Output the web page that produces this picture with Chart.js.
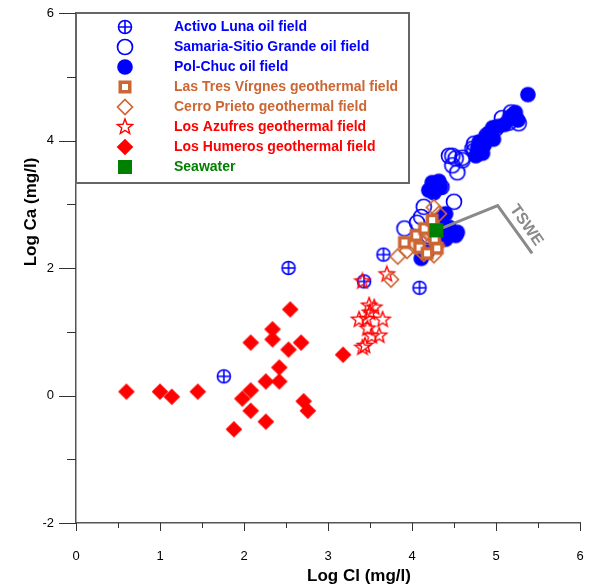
<!DOCTYPE html>
<html>
<head>
<meta charset="utf-8">
<script src="https://cdn.jsdelivr.net/npm/chart.js@4.4.1/dist/chart.umd.min.js"></script>
<style>
  html, body { margin: 0; padding: 0; background: #fff; }
  #wrap { width: 589px; height: 584px; }
</style>
</head>
<body>
<div id="wrap"><canvas id="clCaChart" width="589" height="584"></canvas></div>
<script>
// Log Cl vs Log Ca (mg/l): oil field brines, geothermal waters and seawater

const activoLunaCl = [2.53, 1.76, 3.43, 4.09, 3.66];
const activoLunaCa = [2.00, 0.30, 1.79, 1.69, 2.21];

const samariaCl = [5.27, 5.15, 5.07, 5.18, 5.00, 4.89, 4.74, 4.72, 4.74, 4.60, 4.60, 4.52, 4.48, 4.44, 4.48, 4.54, 4.35, 4.50, 4.14, 4.11, 4.06, 3.91, 4.20];
const samariaCa = [4.27, 4.28, 4.35, 4.44, 4.19, 4.08, 3.95, 3.87, 3.84, 3.73, 3.69, 3.72, 3.76, 3.76, 3.61, 3.50, 3.27, 3.04, 2.96, 2.80, 2.71, 2.62, 2.50];

const polChucCl = [5.38, 5.23, 5.20, 5.16, 5.26, 5.10, 5.02, 4.96, 4.92, 4.88, 4.97, 4.80, 4.86, 4.78, 4.84, 4.76, 4.24, 4.29, 4.32, 4.20, 4.26, 4.34, 4.40, 4.33, 4.44, 4.54, 4.52, 4.11, 4.18, 4.29, 4.40];
const polChucCa = [4.72, 4.44, 4.40, 4.36, 4.32, 4.25, 4.22, 4.20, 4.12, 4.05, 4.02, 3.98, 3.93, 3.88, 3.80, 3.76, 3.34, 3.30, 3.36, 3.22, 3.18, 3.27, 2.85, 2.76, 2.64, 2.56, 2.51, 2.15, 2.25, 2.43, 2.45];

const tresVirgenesCl = [3.91, 4.05, 4.15, 4.24, 4.09, 4.18, 4.30, 4.27];
const tresVirgenesCa = [2.40, 2.51, 2.62, 2.75, 2.32, 2.23, 2.31, 2.46];

const cerroPrietoCl = [3.75, 3.83, 3.94, 4.02, 4.10, 4.18, 4.26, 4.26, 4.32, 4.14, 4.26, 4.30, 4.21];
const cerroPrietoCa = [1.82, 2.18, 2.27, 2.36, 2.45, 2.55, 2.67, 2.95, 2.85, 2.22, 2.20, 2.35, 2.60];

const azufresCl = [3.41, 3.70, 3.49, 3.55, 3.37, 3.46, 3.65, 3.47, 3.52, 3.61, 3.41, 3.44, 3.50];
const azufresCa = [1.79, 1.90, 1.41, 1.38, 1.19, 1.20, 1.19, 1.05, 0.93, 0.94, 0.75, 0.78, 1.30];

const humerosCl = [0.60, 1.00, 1.14, 1.45, 1.88, 1.98, 2.08, 2.08, 2.08, 2.26, 2.26, 2.42, 2.42, 2.34, 2.34, 2.53, 2.68, 2.55, 2.71, 2.76, 3.18];
const humerosCa = [0.06, 0.06, -0.02, 0.06, -0.53, -0.05, 0.08, -0.24, 0.83, -0.41, 0.22, 0.44, 0.22, 1.04, 0.88, 0.72, 0.83, 1.35, -0.09, -0.24, 0.64];

const seawaterCl = [4.29];
const seawaterCa = [2.59];

// theoretical seawater evaporation trend
const tsweCl = [4.29, 5.02, 5.43];
const tsweCa = [2.59, 2.98, 2.23];

const BLUE = '#0000ff';
const ORANGE = '#cc6633';
const RED = '#ff0000';
const GREEN = '#008000';

function zip(xs, ys) {
  return xs.map((x, i) => ({ x: x, y: ys[i] }));
}

// marker sprites, used both on the plot and in the legend box
function marker(kind, color) {
  const c = document.createElement('canvas');
  c.width = 20; c.height = 20;
  const g = c.getContext('2d');
  g.translate(10, 10);
  g.strokeStyle = color;
  g.fillStyle = color;
  if (kind === 'circlePlus') {
    g.lineWidth = 1.6;
    g.beginPath(); g.arc(0, 0, 6.5, 0, Math.PI * 2); g.stroke();
    g.beginPath(); g.moveTo(-6.5, 0); g.lineTo(6.5, 0); g.moveTo(0, -6.5); g.lineTo(0, 6.5); g.stroke();
  } else if (kind === 'ring') {
    g.lineWidth = 1.7;
    g.beginPath(); g.arc(0, 0, 7.5, 0, Math.PI * 2); g.stroke();
  } else if (kind === 'dot') {
    g.beginPath(); g.arc(0, 0, 7.8, 0, Math.PI * 2); g.fill();
  } else if (kind === 'thickSquare') {
    g.fillRect(-6.5, -6.5, 13, 13);
    g.fillStyle = '#fff';
    g.fillRect(-3, -3, 6, 6);
  } else if (kind === 'openDiamond') {
    g.lineWidth = 1.7;
    g.beginPath(); g.moveTo(0, -7.5); g.lineTo(7.5, 0); g.lineTo(0, 7.5); g.lineTo(-7.5, 0); g.closePath(); g.stroke();
  } else if (kind === 'openStar') {
    g.lineWidth = 1.4;
    g.beginPath();
    for (let i = 0; i < 10; i++) {
      const r = i % 2 === 0 ? 8 : 3.4;
      const a = -Math.PI / 2 + i * Math.PI / 5;
      const px = r * Math.cos(a), py = r * Math.sin(a);
      if (i === 0) g.moveTo(px, py); else g.lineTo(px, py);
    }
    g.closePath(); g.stroke();
  } else if (kind === 'fullDiamond') {
    g.beginPath(); g.moveTo(0, -8.3); g.lineTo(8.3, 0); g.lineTo(0, 8.3); g.lineTo(-8.3, 0); g.closePath(); g.fill();
  } else if (kind === 'fullSquare') {
    g.fillRect(-7, -7, 14, 14);
  }
  return c;
}

const series = [
  { label: 'Activo Luna oil field', color: BLUE, style: marker('circlePlus', BLUE), data: zip(activoLunaCl, activoLunaCa), order: 5 },
  { label: 'Samaria-Sitio Grande oil field', color: BLUE, style: marker('ring', BLUE), data: zip(samariaCl, samariaCa), order: 6 },
  { label: 'Pol-Chuc oil field', color: BLUE, style: marker('dot', BLUE), data: zip(polChucCl, polChucCa), order: 7 },
  { label: 'Las Tres Vírgnes geothermal field', color: ORANGE, style: marker('thickSquare', ORANGE), data: zip(tresVirgenesCl, tresVirgenesCa), order: 2 },
  { label: 'Cerro Prieto geothermal field', color: ORANGE, style: marker('openDiamond', ORANGE), data: zip(cerroPrietoCl, cerroPrietoCa), order: 3 },
  { label: 'Los Azufres geothermal field', color: RED, style: marker('openStar', RED), data: zip(azufresCl, azufresCa), order: 4 },
  { label: 'Los Humeros geothermal field', color: RED, style: marker('fullDiamond', RED), data: zip(humerosCl, humerosCa), order: 4 },
  { label: 'Seawater', color: GREEN, style: marker('fullSquare', GREEN), data: zip(seawaterCl, seawaterCa), order: 0 }
];

const datasets = series.map(s => ({
  label: s.label,
  data: s.data,
  pointStyle: s.style,
  pointRadius: 8,
  borderColor: s.color,
  backgroundColor: s.color,
  order: s.order
}));

datasets.push({
  label: 'TSWE',
  data: zip(tsweCl, tsweCa),
  showLine: true,
  pointRadius: 0,
  borderColor: '#8a8a8a',
  borderWidth: 3,
  order: 1
});

const FONT = "'Liberation Sans', Arial, sans-serif";

// outward tick marks: long at labelled values, short in between
const tickMarks = {
  id: 'tickMarks',
  afterDraw(chart) {
    const { ctx, chartArea: a, scales: { x, y } } = chart;
    ctx.save();
    ctx.strokeStyle = '#333';
    ctx.lineWidth = 1;
    ctx.beginPath();
    for (let v = 0; v <= 6.001; v += 0.5) {
      const px = Math.round(x.getPixelForValue(v)) + 0.5;
      const len = Number.isInteger(v) ? 8 : 5;
      ctx.moveTo(px, a.bottom); ctx.lineTo(px, a.bottom + len);
    }
    for (let v = -2; v <= 6; v += 1) {
      const py = Math.round(y.getPixelForValue(v)) + 0.5;
      const len = v % 2 === 0 ? 17 : 9;
      ctx.moveTo(a.left, py); ctx.lineTo(a.left - len, py);
    }
    ctx.stroke();

    // axis titles
    ctx.fillStyle = '#000';
    ctx.font = 'bold 17px ' + FONT;
    ctx.textAlign = 'center';
    ctx.textBaseline = 'middle';
    ctx.fillText('Log Cl (mg/l)', 359, 576);
    ctx.translate(31, 212);
    ctx.rotate(-Math.PI / 2);
    ctx.fillText('Log Ca (mg/l)', 0, 0);
    ctx.restore();

    // label along the evaporation trend
    ctx.save();
    ctx.translate(x.getPixelForValue(5.36), y.getPixelForValue(2.67));
    ctx.rotate(55 * Math.PI / 180);
    ctx.fillStyle = '#8a8a8a';
    ctx.font = 'bold 16px ' + FONT;
    ctx.textAlign = 'center';
    ctx.textBaseline = 'middle';
    ctx.fillText('TSWE', 0, 0);
    ctx.restore();
  }
};

// boxed legend in the upper-left corner of the plot
const legendBox = {
  id: 'legendBox',
  afterDatasetsDraw(chart) {
    const { ctx, chartArea: a } = chart;
    const left = a.left, top = a.top, w = 333, h = 170;
    ctx.save();
    ctx.fillStyle = '#fff';
    ctx.fillRect(left, top, w, h);
    ctx.strokeStyle = '#666';
    ctx.lineWidth = 2;
    ctx.strokeRect(left, top, w, h);
    ctx.font = 'bold 14px ' + FONT;
    ctx.textAlign = 'left';
    ctx.textBaseline = 'middle';
    series.forEach((s, i) => {
      const cy = top + 14 + i * 20;
      ctx.drawImage(s.style, left + 49 - 10, cy - 10);
      ctx.fillStyle = s.color;
      ctx.fillText(s.label, left + 98, cy);
    });
    ctx.restore();
  }
};

new Chart(document.getElementById('clCaChart'), {
  type: 'scatter',
  data: { datasets: datasets },
  plugins: [legendBox, tickMarks],
  options: {
    responsive: false,
    devicePixelRatio: 1,
    animation: false,
    events: [],
    layout: { padding: { top: 13, right: 8, left: 0, bottom: 0 } },
    plugins: {
      legend: { display: false },
      tooltip: { enabled: false }
    },
    scales: {
      x: {
        type: 'linear',
        min: 0,
        max: 6,
        grid: { display: false, drawTicks: false },
        border: { display: true, color: '#555', width: 1.5 },
        ticks: { stepSize: 1, padding: 26, color: '#000', font: { family: FONT, size: 13 } },
        afterFit(scale) {
          scale.height = 61;
          scale.paddingLeft = 0;
          scale.paddingRight = 0;
        }
      },
      y: {
        type: 'linear',
        min: -2,
        max: 6,
        grid: { display: false, drawTicks: false },
        border: { display: true, color: '#555', width: 1.5 },
        ticks: { stepSize: 2, padding: 22, color: '#000', font: { family: FONT, size: 13 } },
        afterFit(scale) {
          scale.width = 76;
          scale.paddingTop = 0;
          scale.paddingBottom = 0;
        }
      }
    }
  }
});
</script>
</body>
</html>
